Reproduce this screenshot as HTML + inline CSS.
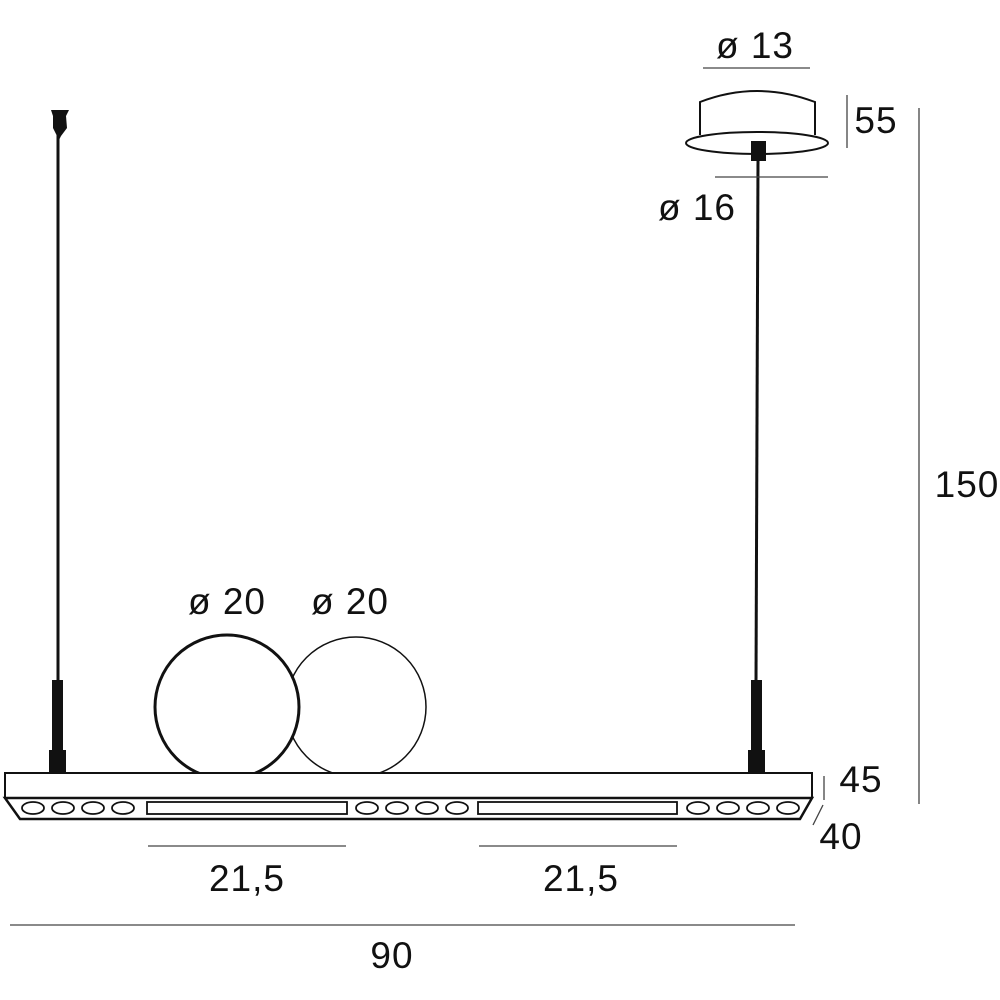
<!DOCTYPE html>
<html><head><style>body{margin:0;background:#fff}svg{display:block}text{font-family:"Liberation Sans",sans-serif;font-size:37px;letter-spacing:1px;fill:#111;text-anchor:middle}</style></head>
<body><svg width="1000" height="1000" viewBox="0 0 1000 1000">
<path d="M700 135 L700 102 Q757 80 815 102 L815 135" fill="none" stroke="#111" stroke-width="2"/>
<ellipse cx="757" cy="143" rx="71" ry="11" fill="#fff" stroke="#111" stroke-width="2"/>
<rect x="751" y="141" width="15" height="20" fill="#111"/>
<line x1="758" y1="160" x2="756" y2="682" stroke="#111" stroke-width="3"/>
<path d="M51 110 L69 110 L66 116 L67 128 L61 136 L59 140 L57 136 L53 128 L53 116 Z" fill="#111"/>
<line x1="58" y1="135" x2="58" y2="682" stroke="#111" stroke-width="3"/>
<rect x="52" y="680" width="11" height="72" fill="#111"/>
<rect x="49" y="750" width="17" height="24" fill="#111"/>
<rect x="751" y="680" width="11" height="72" fill="#111"/>
<rect x="748" y="750" width="17" height="24" fill="#111"/>
<defs><clipPath id="c"><rect x="0" y="0" width="1000" height="773"/></clipPath></defs>
<g clip-path="url(#c)">
<circle cx="356" cy="707" r="70" fill="#fff" stroke="#111" stroke-width="1.5"/>
<circle cx="227" cy="707" r="72" fill="#fff" stroke="#111" stroke-width="3"/>
</g>
<rect x="5" y="773" width="807" height="25" fill="#fff" stroke="#111" stroke-width="2"/>
<path d="M5 798 L812 798 L800 819 L20 819 Z" fill="#fff" stroke="#111" stroke-width="2.5"/>
<g fill="#fff" stroke="#111" stroke-width="1.8">
<ellipse cx="33" cy="808" rx="11" ry="6"/><ellipse cx="63" cy="808" rx="11" ry="6"/><ellipse cx="93" cy="808" rx="11" ry="6"/><ellipse cx="123" cy="808" rx="11" ry="6"/>
<rect x="147" y="802" width="200" height="12"/>
<ellipse cx="367" cy="808" rx="11" ry="6"/><ellipse cx="397" cy="808" rx="11" ry="6"/><ellipse cx="427" cy="808" rx="11" ry="6"/><ellipse cx="457" cy="808" rx="11" ry="6"/>
<rect x="478" y="802" width="199" height="12"/>
<ellipse cx="698" cy="808" rx="11" ry="6"/><ellipse cx="728" cy="808" rx="11" ry="6"/><ellipse cx="758" cy="808" rx="11" ry="6"/><ellipse cx="788" cy="808" rx="11" ry="6"/>
</g>
<g stroke="#444" stroke-width="1.3">
<line x1="703" y1="68" x2="810" y2="68"/>
<line x1="847" y1="95" x2="847" y2="148"/>
<line x1="715" y1="177" x2="828" y2="177"/>
<line x1="919" y1="108" x2="919" y2="804"/>
<line x1="824" y1="776" x2="824" y2="800"/>
<line x1="823" y1="805" x2="813" y2="825"/>
<line x1="148" y1="846" x2="346" y2="846"/>
<line x1="479" y1="846" x2="677" y2="846"/>
<line x1="10" y1="925" x2="795" y2="925"/>
</g>
<text x="755" y="58">ø 13</text>
<text x="876" y="133">55</text>
<text x="697" y="220">ø 16</text>
<text x="967" y="497">150</text>
<text x="861" y="792">45</text>
<text x="841" y="849">40</text>
<text x="227" y="614">ø 20</text>
<text x="350" y="614">ø 20</text>
<text x="247" y="891">21,5</text>
<text x="581" y="891">21,5</text>
<text x="392" y="968">90</text>
</svg></body></html>
